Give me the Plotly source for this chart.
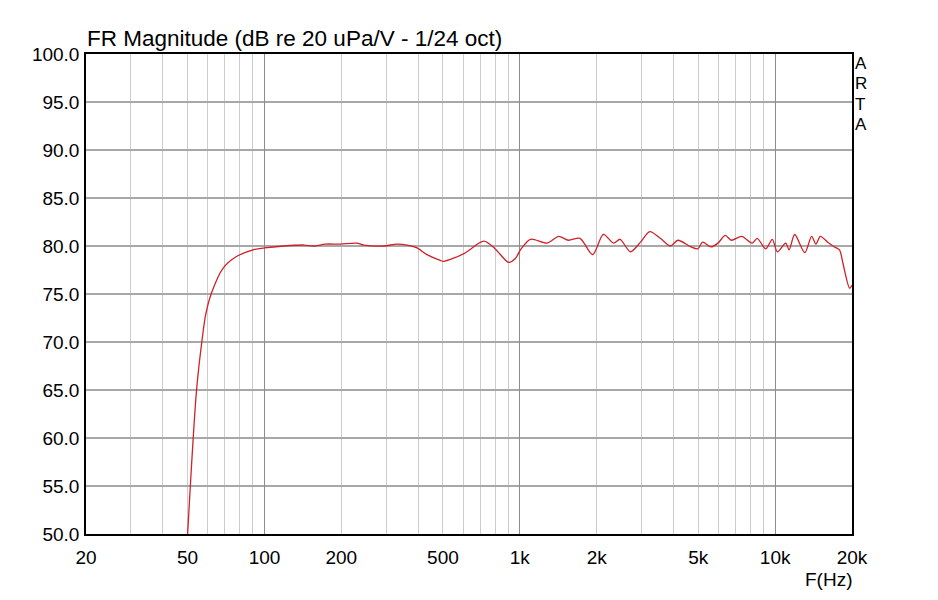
import plotly.graph_objects as go

freq_hz = [50, 54.2, 57.2, 58.8, 62, 68.9, 77.7, 90.3, 100, 119, 143, 156, 173, 198, 230, 245,
           293, 330, 362, 396, 433, 488, 503, 604, 723, 801, 904, 961, 1006, 1100, 1280, 1420,
           1550, 1720, 1930, 2125, 2330, 2470, 2710, 2970, 3230, 3550, 3890, 4160, 4680, 4980,
           5200, 5610, 5970, 6380, 6740, 7400, 8130, 8510, 9180, 9750, 10200, 11000, 11340,
           11930, 13070, 13890, 14450, 15030, 16070, 17080, 17870, 18430, 19570, 20000]
mag_db = [50.0, 65.0, 70.6, 72.8, 75.1, 77.7, 78.9, 79.6, 79.8, 80.0, 80.1, 80.0, 80.2, 80.2,
          80.3, 80.1, 80.0, 80.2, 80.1, 79.8, 79.1, 78.5, 78.4, 79.2, 80.5, 79.7, 78.3, 78.7,
          79.6, 80.7, 80.3, 81.0, 80.6, 80.8, 79.1, 81.2, 80.3, 80.7, 79.4, 80.4, 81.5, 80.8,
          80.0, 80.6, 79.9, 79.7, 80.4, 79.9, 80.3, 81.1, 80.6, 81.0, 80.3, 80.8, 79.7, 80.7,
          79.4, 80.3, 79.6, 81.2, 79.3, 81.0, 80.2, 81.0, 80.4, 79.9, 79.6, 78.2, 75.6, 75.9]

x_grid = [20, 30, 40, 50, 60, 70, 80, 90, 100, 200, 300, 400, 500, 600, 700, 800, 900,
          1000, 2000, 3000, 4000, 5000, 6000, 7000, 8000, 9000, 10000, 20000]
x_labels = {20: "20", 50: "50", 100: "100", 200: "200", 500: "500", 1000: "1k",
            2000: "2k", 5000: "5k", 10000: "10k", 20000: "20k"}
x_major = [100, 1000, 10000]
y_ticks = [50, 55, 60, 65, 70, 75, 80, 85, 90, 95, 100]
side_letters = ["A", "R", "T", "A"]

FONT = "Liberation Sans, Arial, sans-serif"

fig = go.Figure()
fig.add_trace(go.Scatter(x=freq_hz, y=mag_db, mode="lines",
                         line=dict(color="#d0202a", width=1.3, shape="spline", smoothing=0.8),
                         showlegend=False, hoverinfo="x+y"))
# invisible trace on overlay axis for major gridlines
fig.add_trace(go.Scatter(x=[20, 20000], y=[50, 50], xaxis="x2", mode="lines",
                         line=dict(width=0), showlegend=False, hoverinfo="skip"))

annotations = [
    dict(text="FR Magnitude (dB re 20 uPa/V - 1/24 oct)", xref="paper", yref="paper",
         x=0, y=1, xanchor="left", yanchor="bottom", yshift=1, xshift=-1,
         showarrow=False, font=dict(size=22.5, family=FONT)),
    dict(text="F(Hz)", xref="paper", yref="paper", x=1, y=0,
         xanchor="right", yanchor="top", yshift=-33, xshift=2, showarrow=False,
         font=dict(size=19, family=FONT)),
]
for i, ch in enumerate(side_letters):
    annotations.append(dict(text=ch, xref="paper", yref="paper", x=1, y=1,
                            xanchor="left", yanchor="middle", xshift=1,
                            yshift=-9 - 20.5 * i, showarrow=False,
                            font=dict(size=17, family=FONT)))

fig.update_layout(
    width=938, height=600,
    margin=dict(l=78, r=94, t=46, b=74),
    paper_bgcolor="white", plot_bgcolor="rgba(0,0,0,0)",
    font=dict(family=FONT, size=19, color="black"),
    xaxis=dict(type="log", range=[1.30103, 4.30103],
               tickvals=x_grid, ticktext=[x_labels.get(v, "") for v in x_grid],
               showgrid=True, gridcolor="#cccccc", gridwidth=1,
               showline=True, linecolor="black", linewidth=1.5, mirror=True,
               ticks="", ticklabelstandoff=5, zeroline=False,
               tickfont=dict(size=19)),
    xaxis2=dict(type="log", range=[1.30103, 4.30103], overlaying="x",
                tickvals=x_major, showticklabels=False, showgrid=True,
                gridcolor="#8c8c8c", gridwidth=1, showline=False, zeroline=False, ticks=""),
    yaxis=dict(range=[50, 100], tickvals=y_ticks,
               ticktext=[f"{v:.1f}" for v in y_ticks],
               showgrid=True, gridcolor="#a8a8a8", gridwidth=1.5,
               showline=True, linecolor="black", linewidth=1.5, mirror=True,
               ticks="", ticklabelstandoff=1, zeroline=False,
               tickfont=dict(size=19)),
    annotations=annotations,
)

fig.write_html("out.html")
